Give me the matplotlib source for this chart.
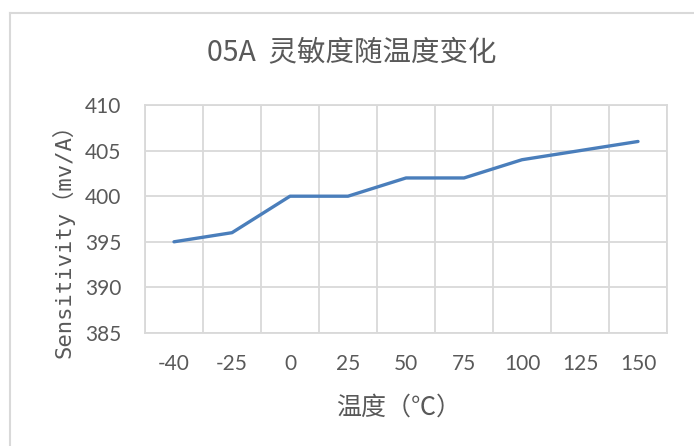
import matplotlib
matplotlib.use('Agg')
import matplotlib.pyplot as plt
from matplotlib.lines import Line2D

# data
temps = ['-40', '-25', '0', '25', '50', '75', '100', '125', '150']
sensitivity = [395, 396, 400, 400, 402, 402, 404, 405, 406]
y_ticks = [385, 390, 395, 400, 405, 410]

W, H = 694, 446
GRID = '#d9d9d9'
TEXT = '#595959'
CJK = ['Noto Sans CJK SC', 'DejaVu Sans']

fig = plt.figure(figsize=(W / 100, H / 100), dpi=100)

# plot area in pixel coords: left 145, right 667, top 105, bottom 333
ax = fig.add_axes([145 / W, 1 - 333 / H, 522 / W, 228 / H])
xs = list(range(len(temps)))
ax.plot(xs, sensitivity, color='#4a7ebb', lw=2.4, solid_capstyle='round')

ax.set_xlim(-0.5, len(temps) - 0.5)
ax.set_ylim(y_ticks[0], y_ticks[-1])
ax.set_yticks(y_ticks)
ax.set_xticks(xs, temps)
ax.set_xticks([i - 0.5 for i in range(len(temps) + 1)], minor=True)
ax.grid(axis='y', which='major', color=GRID, lw=1.3)
ax.grid(axis='x', which='minor', color=GRID, lw=1.3)
ax.set_axisbelow(True)
ax.tick_params(which='both', length=0, labelsize=15, labelcolor=TEXT)
ax.tick_params(axis='x', pad=15)
ax.tick_params(axis='y', pad=17)
for lab in ax.get_xticklabels() + ax.get_yticklabels():
    lab.set_family(['Lato', 'DejaVu Sans'])
for sp in ax.spines.values():
    sp.set_color(GRID)
    sp.set_linewidth(1.3)

fig.text(352 / W, 1 - 52 / H, '05A  灵敏度随温度变化', ha='center', va='center',
         fontsize=20.5, color=TEXT, family=CJK)
fig.text(399 / W, 1 - 408 / H, '温度（℃）', ha='center', va='center',
         fontsize=18, color=TEXT, family=CJK)
fig.text(63 / W, 1 - 235 / H, 'Sensitivity（mv/A）', ha='center', va='center',
         rotation=90, fontsize=16, color=TEXT,
         family=['DejaVu Sans Mono', 'Noto Sans CJK SC'])

# chart frame edges visible in the screenshot
fig.add_artist(Line2D([10 / W, 10 / W], [0, 1 - 13 / H], color=GRID, lw=1.5))
fig.add_artist(Line2D([10 / W, 1], [1 - 13 / H, 1 - 13 / H], color=GRID, lw=1.5))

fig.savefig('out.png', dpi=100)
